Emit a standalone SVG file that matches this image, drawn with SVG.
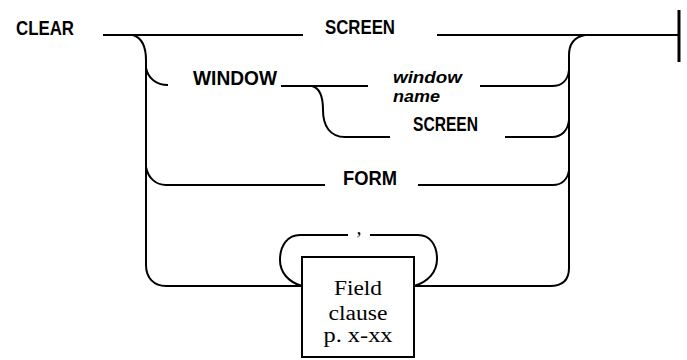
<svg xmlns="http://www.w3.org/2000/svg" width="687" height="360" viewBox="0 0 687 360">
<style>
.ln{fill:none;stroke:#000;stroke-width:2;stroke-linecap:butt}
.kw{font-family:"Liberation Sans",Arial,sans-serif;font-weight:bold;font-size:20px;fill:#000}
.it{font-family:"Liberation Sans",Arial,sans-serif;font-weight:bold;font-style:italic;font-size:17px;fill:#000}
.sf{font-family:"Liberation Serif","Times New Roman",serif;font-size:20px;fill:#000;text-anchor:middle}
</style>
<rect width="687" height="360" fill="#fff"/>
<g id="connectors">
<path class="ln" d="M103,35 H303"/>
<path class="ln" d="M437,35 H679"/>
<path class="ln" d="M679,10 V62" style="stroke-width:3"/>
<path class="ln" d="M133,35 C142,38 146,48 146,60 V265 C146,278 154,286 166,286 H302"/>
<path class="ln" d="M146,68 C148,78 156,85 168,85"/>
<path class="ln" d="M146,167 C148,178 156,185 166,185 H325"/>
<path class="ln" d="M281,86 H368"/>
<path class="ln" d="M312,86 C320,88 323,98 323,110 C323,126 330,137 345,137 H390"/>
<path class="ln" d="M480,86 H552 C562,86 568,80 569,70"/>
<path class="ln" d="M505,137 H552 C562,137 568,130 569,120"/>
<path class="ln" d="M418,185 H553 C562,185 568,179 569,170"/>
<path class="ln" d="M585,35 C575,37 569,44 569,55 V268 C569,280 562,286 550,286 H414"/>
<path class="ln" d="M302,286 C288,282 280,272 280,260 C280,245 288,235 300,235 H348"/>
<path class="ln" d="M370,235 H418 C430,235 437,245 437,259 C437,272 428,282 414,286"/>
</g>
<g id="clear"><text class="kw" x="16" y="35" textLength="58" lengthAdjust="spacingAndGlyphs">CLEAR</text></g>
<g id="screen1"><text class="kw" x="325" y="34" textLength="70" lengthAdjust="spacingAndGlyphs">SCREEN</text></g>
<g id="window"><text class="kw" x="193" y="85" textLength="84" lengthAdjust="spacingAndGlyphs">WINDOW</text></g>
<g id="windowname"><text class="it" x="393" y="83" textLength="69" lengthAdjust="spacingAndGlyphs">window</text><text class="it" x="393" y="102" textLength="47" lengthAdjust="spacingAndGlyphs">name</text></g>
<g id="screen2"><text class="kw" x="413" y="131" textLength="65" lengthAdjust="spacingAndGlyphs">SCREEN</text></g>
<g id="form"><text class="kw" x="343" y="185" textLength="54" lengthAdjust="spacingAndGlyphs">FORM</text></g>
<g id="comma"><text class="sf" x="359" y="234" style="font-style:italic">,</text></g>
<g id="fieldclause">
<rect x="302" y="257" width="112" height="100" fill="#fff" stroke="#000" stroke-width="2"/>
<text class="sf" x="358" y="295" textLength="48" lengthAdjust="spacingAndGlyphs">Field</text>
<text class="sf" x="358" y="320" textLength="59" lengthAdjust="spacingAndGlyphs">clause</text>
<text class="sf" x="358" y="342" textLength="69" lengthAdjust="spacingAndGlyphs">p. x-xx</text>
</g>
</svg>
